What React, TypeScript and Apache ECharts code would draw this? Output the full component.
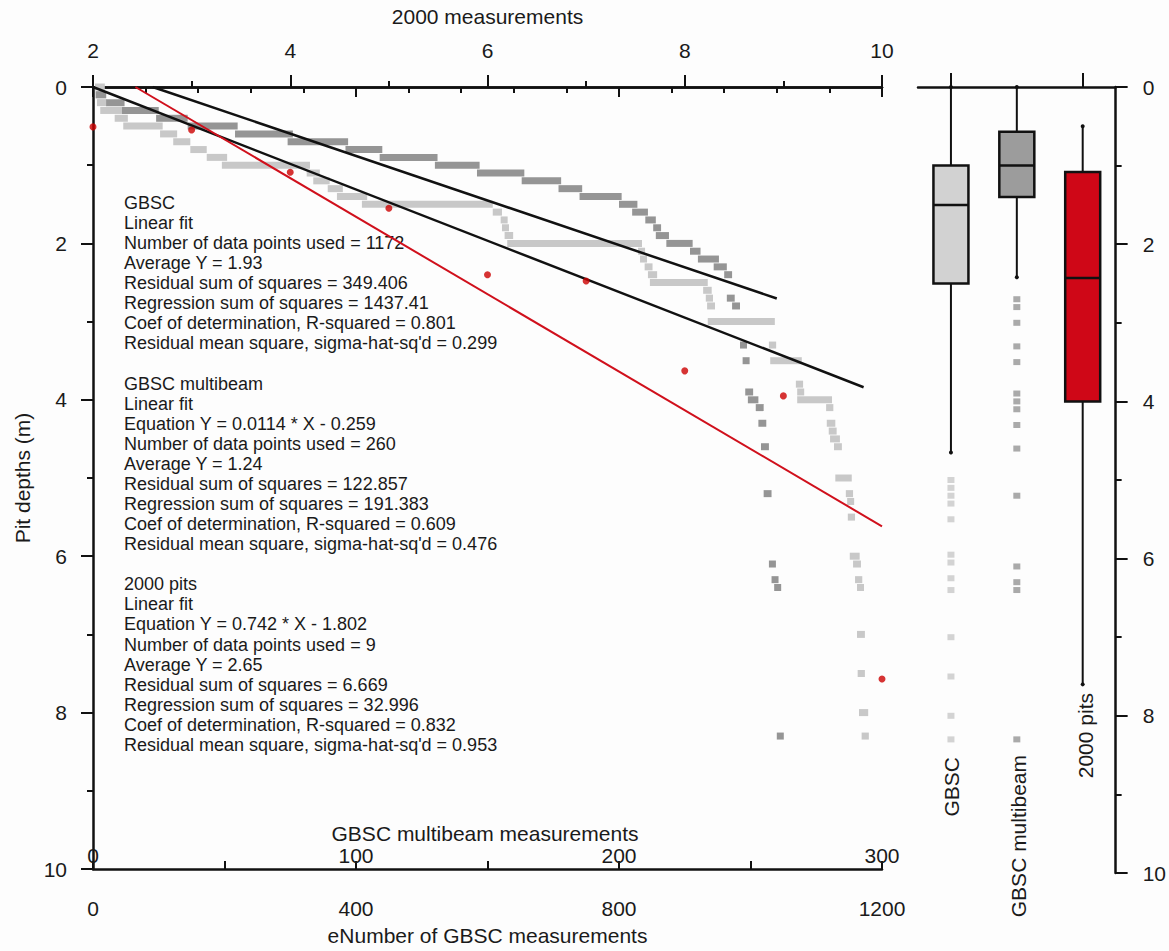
import React, { useEffect, useRef } from "react";
import * as echarts from "echarts";

// GBSC sorted depths drawn as runs: [depth (m), first measurement, last measurement]
const gbscRuns: number[][] = [
  [0.0, 3, 18], [0.1, 5, 20], [0.2, 6, 21], [0.3, 11, 44], [0.4, 33, 53],
  [0.5, 46, 106], [0.6, 102, 128], [0.7, 122, 148], [0.8, 148, 173], [0.9, 173, 204],
  [1.0, 196, 330], [1.1, 325, 345], [1.2, 335, 360], [1.3, 357, 380], [1.4, 371, 417],
  [1.5, 409, 608], [1.6, 608, 622], [1.7, 620, 630], [1.8, 622, 632], [1.9, 626, 639],
  [2.0, 630, 835], [2.1, 829, 839], [2.2, 832, 842], [2.3, 839, 851], [2.4, 844, 858],
  [2.5, 847, 935], [2.6, 928, 941], [2.7, 932, 943], [2.8, 934, 946], [3.0, 935, 1037],
  [3.3, 1028, 1039], [3.5, 1030, 1078], [3.8, 1069, 1080], [3.9, 1071, 1081], [4.0, 1071, 1124],
  [4.1, 1115, 1126], [4.3, 1116, 1129], [4.4, 1119, 1131], [4.5, 1121, 1136], [4.6, 1127, 1139],
  [5.0, 1129, 1154], [5.2, 1145, 1156], [5.3, 1147, 1156], [5.5, 1148, 1159], [6.0, 1151, 1166],
  [6.1, 1156, 1168], [6.3, 1159, 1170], [6.4, 1162, 1172], [7.0, 1162, 1174], [7.5, 1163, 1174],
  [8.0, 1165, 1179], [8.3, 1169, 1180],
];

// GBSC multibeam sorted depths as runs: [depth (m), first measurement, last measurement]
const mbRuns: number[][] = [
  [0.1, 1, 5], [0.2, 5, 12], [0.3, 11, 25], [0.4, 24, 36], [0.5, 36, 55],
  [0.6, 54, 76], [0.7, 74, 97], [0.8, 96, 110], [0.9, 109, 131], [1.0, 130, 147],
  [1.1, 146, 164], [1.2, 163, 178], [1.3, 177, 186], [1.4, 185, 201], [1.5, 200, 207],
  [1.6, 205, 211], [1.7, 210, 214], [1.8, 213, 216], [1.9, 214, 219], [2.0, 218, 228],
  [2.1, 227, 231], [2.2, 230, 238], [2.3, 236, 241], [2.4, 240, 243], [2.7, 241, 244],
  [2.8, 243, 246], [3.3, 246, 248], [3.5, 247, 249], [3.9, 248, 251], [4.0, 249, 253],
  [4.1, 252, 255], [4.3, 253, 256], [4.6, 254, 257], [5.2, 255, 258], [6.1, 257, 259],
  [6.3, 258, 260], [6.4, 259, 261], [8.3, 260, 262],
];

// 2000 pits (top axis: 2000 measurements)
const pitsX = [2, 3, 4, 5, 6, 7, 8, 9, 10];
const pitsY = [0.51, 0.55, 1.09, 1.55, 2.4, 2.48, 3.63, 3.95, 7.57];

// Linear fit end points
const gbscFit = [[0, 0], [1172, 3.84]];
const mbFit = [[22.7, 0], [260, 2.705]];
const pitsFit = [[2.43, 0], [10, 5.618]];

// Box plots: [min, Q1, median, Q3, max]
const boxCategories = ["GBSC", "GBSC multibeam", "2000 pits"];
const boxStats = [
  [0, 1.0, 1.5, 2.5, 4.65],
  [0, 0.57, 1.0, 1.4, 2.42],
  [0.5, 1.08, 2.43, 4.0, 7.6],
];
const gbscOutliers = [5.0, 5.1, 5.2, 5.3, 5.5, 5.95, 6.05, 6.25, 6.4, 7.0, 7.5, 8.0, 8.3];
const mbOutliers = [2.7, 2.8, 3.0, 3.3, 3.5, 3.9, 4.0, 4.1, 4.3, 4.6, 5.2, 6.1, 6.3, 6.4, 8.3];

const statsGBSC = [
  "GBSC",
  "Linear fit",
  "Number of data points used = 1172",
  "Average Y = 1.93",
  "Residual sum of squares = 349.406",
  "Regression sum of squares = 1437.41",
  "Coef of determination, R-squared = 0.801",
  "Residual mean square, sigma-hat-sq'd = 0.299",
];
const statsMB = [
  "GBSC multibeam",
  "Linear fit",
  "Equation Y = 0.0114 * X - 0.259",
  "Number of data points used = 260",
  "Average Y = 1.24",
  "Residual sum of squares = 122.857",
  "Regression sum of squares = 191.383",
  "Coef of determination, R-squared = 0.609",
  "Residual mean square, sigma-hat-sq'd = 0.476",
];
const statsPits = [
  "2000 pits",
  "Linear fit",
  "Equation Y = 0.742 * X - 1.802",
  "Number of data points used = 9",
  "Average Y = 2.65",
  "Residual sum of squares = 6.669",
  "Regression sum of squares = 32.996",
  "Coef of determination, R-squared = 0.832",
  "Residual mean square, sigma-hat-sq'd = 0.953",
];

const FONT = "'Liberation Sans', Arial, Helvetica, sans-serif";
const TXT = "#1a1a1a";
const LIGHT = "#c8c8c8";
const DARK = "#959595";
const RED = "#d0101c";
const boxFills = ["#d2d2d2", "#9c9c9c", "#cf0717"];

export default function App() {
  const ref = useRef<HTMLDivElement>(null);
  useEffect(() => {
    if (!ref.current) return;
    const chart = echarts.init(ref.current, null, { renderer: "svg" });

    const runRender = (color: string) => (params: any, api: any) => {
      const d = api.value(0);
      const p1 = api.coord([api.value(1), d]);
      const p2 = api.coord([api.value(2), d]);
      const w = Math.max(p2[0] - p1[0], 7);
      return {
        type: "rect",
        shape: { x: p1[0], y: p1[1] - 3.5, width: w, height: 7 },
        style: { fill: color },
      };
    };

    const boxRender = (params: any, api: any) => {
      const i = api.value(0);
      const pts = [1, 2, 3, 4, 5].map((k) => api.coord([i, api.value(k)]));
      const cx = pts[0][0];
      const hw = 17.5;
      const ls = { stroke: "#111", lineWidth: 2 };
      return {
        type: "group",
        children: [
          { type: "line", shape: { x1: cx, y1: pts[0][1], x2: cx, y2: pts[1][1] }, style: ls },
          { type: "line", shape: { x1: cx, y1: pts[3][1], x2: cx, y2: pts[4][1] }, style: ls },
          {
            type: "rect",
            shape: { x: cx - hw, y: pts[1][1], width: 2 * hw, height: pts[3][1] - pts[1][1] },
            style: { fill: boxFills[i], stroke: "#111", lineWidth: 2.5 },
          },
          { type: "line", shape: { x1: cx - hw, y1: pts[2][1], x2: cx + hw, y2: pts[2][1] }, style: { stroke: "#111", lineWidth: 2.5 } },
          { type: "circle", shape: { cx, cy: pts[0][1], r: 2 }, style: { fill: "#111" } },
          { type: "circle", shape: { cx, cy: pts[4][1], r: 2 }, style: { fill: "#111" } },
        ],
      };
    };

    const lineY0 = 203;
    const lh = 20.07;
    const allLines: { t: string; row: number }[] = [];
    let row = 0;
    [statsGBSC, statsMB, statsPits].forEach((blk) => {
      blk.forEach((t) => {
        allLines.push({ t, row });
        row++;
      });
      row++;
    });
    const statTexts = allLines.map((l) => ({
      type: "text",
      x: 124,
      y: lineY0 + l.row * lh,
      style: { text: l.t, fontSize: 18, fontFamily: FONT, fill: TXT, align: "left", verticalAlign: "middle" },
    }));

    const rotLabels = [
      { t: boxCategories[0], x: 951, y: 757 },
      { t: boxCategories[1], x: 1018, y: 755 },
      { t: boxCategories[2], x: 1085, y: 693 },
    ].map((l) => ({
      type: "text",
      x: l.x,
      y: l.y,
      rotation: Math.PI / 2,
      style: { text: l.t, fontSize: 21, fontFamily: FONT, fill: TXT, align: "right", verticalAlign: "middle" },
    }));

    const axisLine = { show: true, lineStyle: { color: "#111", width: 2.5 } };
    const tickStyle = { color: "#111", width: 2 };
    const labelStyle = { color: TXT, fontSize: 21, fontFamily: FONT, formatter: (v: number) => String(v) };
    const nameStyle = { color: TXT, fontSize: 21, fontFamily: FONT };

    chart.setOption({
      animation: false,
      backgroundColor: "#fdfdfd",
      grid: [
        { left: 93, top: 87, width: 789, height: 786 },
        { left: 918, top: 87, width: 201, height: 786 },
      ],
      xAxis: [
        {
          type: "value", gridIndex: 0, position: "bottom", min: 0, max: 1200, interval: 400,
          axisLine, axisTick: { show: true, length: 10, lineStyle: tickStyle },
          minorTick: { show: true, splitNumber: 5, length: 6, lineStyle: tickStyle },
          splitLine: { show: false },
          axisLabel: { ...labelStyle, margin: 29 },
          name: "eNumber of GBSC measurements", nameLocation: "middle", nameGap: 56, nameTextStyle: nameStyle,
        },
        {
          type: "value", gridIndex: 0, position: "bottom", min: 0, max: 300, interval: 100,
          axisLine, axisTick: { show: true, inside: true, length: 8, lineStyle: tickStyle },
          minorTick: { show: true, splitNumber: 2, length: 8, lineStyle: tickStyle },
          splitLine: { show: false },
          axisLabel: { ...labelStyle, inside: true, margin: 3 },
        },
        {
          type: "value", gridIndex: 0, position: "top", min: 2, max: 10, interval: 2,
          axisLine, axisTick: { show: true, length: 12, lineStyle: tickStyle },
          minorTick: { show: true, splitNumber: 2, length: 6, lineStyle: tickStyle },
          splitLine: { show: false },
          axisLabel: { ...labelStyle, margin: 26 },
          name: "2000 measurements", nameLocation: "middle", nameGap: 60, nameTextStyle: nameStyle,
        },
        {
          type: "category", gridIndex: 1, position: "top", data: boxCategories, boundaryGap: true,
          axisLine, axisTick: { show: true, alignWithLabel: true, length: 14, lineStyle: tickStyle },
          axisLabel: { show: false }, splitLine: { show: false },
        },
      ],
      yAxis: [
        {
          type: "value", gridIndex: 0, inverse: true, min: 0, max: 10, interval: 2, position: "left",
          axisLine, axisTick: { show: true, length: 12, lineStyle: tickStyle },
          minorTick: { show: true, splitNumber: 2, length: 6, lineStyle: tickStyle },
          splitLine: { show: false },
          axisLabel: { ...labelStyle, margin: 26 },
          name: "Pit depths (m)", nameLocation: "middle", nameGap: 60, nameRotate: 90, nameTextStyle: nameStyle,
        },
        {
          type: "value", gridIndex: 1, inverse: true, min: 0, max: 10, interval: 2, position: "right",
          axisLine, axisTick: { show: true, length: 12, lineStyle: tickStyle },
          minorTick: { show: true, splitNumber: 2, length: 6, lineStyle: tickStyle },
          splitLine: { show: false },
          axisLabel: { ...labelStyle, margin: 27 },
        },
      ],
      series: [
        {
          type: "custom", name: "GBSC", xAxisIndex: 0, yAxisIndex: 0, data: gbscRuns,
          encode: { x: [1, 2], y: 0 }, renderItem: runRender(LIGHT), clip: false, z: 2,
        },
        {
          type: "custom", name: "GBSC multibeam", xAxisIndex: 1, yAxisIndex: 0, data: mbRuns,
          encode: { x: [1, 2], y: 0 }, renderItem: runRender(DARK), clip: false, z: 2,
        },
        {
          type: "line", name: "GBSC fit", xAxisIndex: 0, yAxisIndex: 0, data: gbscFit, symbol: "none",
          lineStyle: { color: "#111", width: 2.5 }, z: 4,
        },
        {
          type: "line", name: "GBSC multibeam fit", xAxisIndex: 1, yAxisIndex: 0, data: mbFit, symbol: "none",
          lineStyle: { color: "#111", width: 2.5 }, z: 4,
        },
        {
          type: "line", name: "2000 pits fit", xAxisIndex: 2, yAxisIndex: 0, data: pitsFit, symbol: "none",
          lineStyle: { color: RED, width: 2 }, z: 5,
        },
        {
          type: "scatter", name: "2000 pits", xAxisIndex: 2, yAxisIndex: 0,
          data: pitsX.map((x, i) => [x, pitsY[i]]), symbol: "circle", symbolSize: 7,
          itemStyle: { color: "#cc0000" }, clip: false, z: 6,
        },
        {
          type: "custom", name: "boxes", xAxisIndex: 3, yAxisIndex: 1,
          data: boxStats.map((s, i) => [i, ...s]), encode: { x: 0, y: [1, 2, 3, 4, 5] },
          renderItem: boxRender, clip: false, z: 3,
        },
        {
          type: "scatter", name: "GBSC outliers", xAxisIndex: 3, yAxisIndex: 1,
          data: gbscOutliers.map((v) => [0, v]), symbol: "rect", symbolSize: [7, 6],
          itemStyle: { color: LIGHT }, z: 3,
        },
        {
          type: "scatter", name: "GBSC multibeam outliers", xAxisIndex: 3, yAxisIndex: 1,
          data: mbOutliers.map((v) => [1, v]), symbol: "rect", symbolSize: [7, 6],
          itemStyle: { color: DARK }, z: 3,
        },
      ],
      graphic: [
        {
          type: "text", x: 485, y: 833,
          style: { text: "GBSC multibeam measurements", fontSize: 21, fontFamily: FONT, fill: TXT, align: "center", verticalAlign: "middle" },
        },
        ...statTexts,
        ...rotLabels,
      ],
    });

    return () => chart.dispose();
  }, []);

  return (
    <div
      ref={ref}
      style={{ position: "fixed", left: 0, top: 0, width: 1169, height: 951 }}
    />
  );
}
